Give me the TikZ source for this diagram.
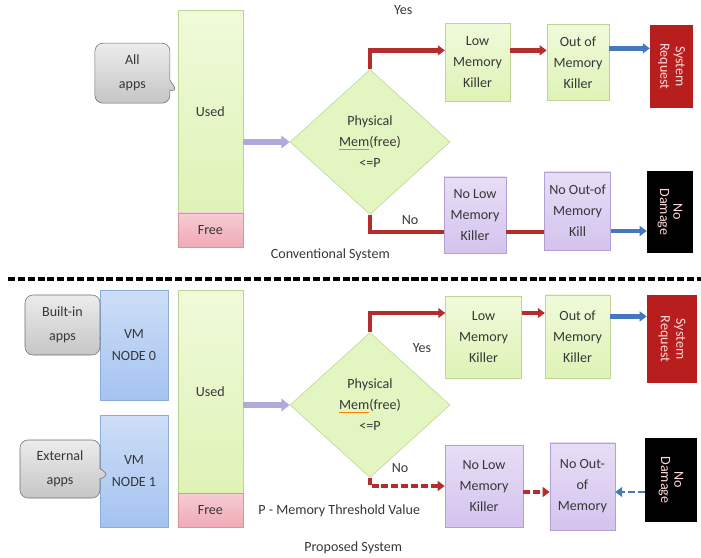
\documentclass[tikz,border=0pt]{standalone}
\usepackage{fontspec}
\setmainfont{Carlito}
\usepackage{tikz}
\usepackage{xcolor}
\usetikzlibrary{arrows.meta, positioning, shapes.geometric, shapes.callouts}
\definecolor{barlime}{RGB}{222, 243, 182}
\definecolor{barlimetop}{RGB}{240, 250, 218}
\definecolor{limeedge}{RGB}{190, 212, 150}
\definecolor{freepink}{RGB}{240, 170, 182}
\definecolor{pinkedge}{RGB}{215, 150, 160}
\definecolor{vmblue}{RGB}{165, 195, 240}
\definecolor{blueedge}{RGB}{140, 170, 220}
\definecolor{nopurple}{RGB}{212, 195, 238}
\definecolor{purpleedge}{RGB}{178, 160, 210}
\definecolor{reqred}{RGB}{185, 30, 30}
\definecolor{linered}{RGB}{180, 45, 45}
\definecolor{lineblue}{RGB}{70, 120, 190}
\definecolor{linepurple}{RGB}{178, 168, 222}
\definecolor{tagedge}{RGB}{110, 110, 110}
\definecolor{textgrey}{RGB}{55, 55, 55}

\begin{document}
\begin{tikzpicture}[
    font=\fontsize{10}{15}\selectfont, text=textgrey,
    bar/.style={rectangle, draw=limeedge, top color=barlimetop, bottom color=barlime, minimum width=1.625cm},
    freebox/.style={rectangle, draw=pinkedge, top color=freepink!60, bottom color=freepink, minimum width=1.625cm, minimum height=0.85cm},
    vmbox/.style={rectangle, draw=blueedge, top color=vmblue!55, bottom color=vmblue, align=center, minimum width=1.7cm},
    killbox/.style={rectangle, draw=limeedge, top color=barlimetop, bottom color=barlime, align=center},
    nokillbox/.style={rectangle, draw=purpleedge, top color=nopurple!55, bottom color=nopurple, align=center},
    endbox/.style={rectangle, text=white!85!red, align=center, font=\fontsize{10}{13}\selectfont},
    decision/.style={diamond, draw=limeedge, fill=barlime!85, align=center, inner sep=0pt, minimum width=4cm, minimum height=3.625cm},
    apptag/.style={rectangle callout, rounded corners=2mm, draw=tagedge, top color=gray!15, bottom color=gray!45, align=center, font=\fontsize{10}{17}\selectfont},
    feed/.style={-{Triangle[length=6pt, width=9pt]}, line width=4pt, linepurple},
    redline/.style={-{Triangle[length=5pt, width=7pt]}, line width=3pt, linered},
    blueline/.style={-{Triangle[length=5pt, width=7pt]}, line width=3pt, lineblue},
    dashline/.style={dashed, dash pattern=on 5pt off 2pt}
]
\useasboundingbox (0,0) rectangle (17.525,-13.95);

% Conventional system
\node[bar, minimum height=5.075cm] (used1) at (5.26,-2.79) {Used};
\node[freebox] (free1) at (5.26,-5.75) {Free};
\node[apptag, minimum width=1.875cm, minimum height=1.5cm, callout absolute pointer={(4.45,-2.3)}] (allapps) at (3.31,-1.83) {All\\apps};

\node[decision] (check1) at (9.25,-3.55) {Physical\\{\color{orange}\underline{\textcolor{textgrey}{Mem}}}(free)\\<=P};
\draw[feed] (used1.east|-check1.west) -- (check1.west);

\node[killbox, minimum width=1.625cm, minimum height=1.95cm] (lmk1) at (11.94,-1.56) {Low\\Memory\\Killer};
\node[killbox, minimum width=1.55cm, minimum height=1.9cm] (oom1) at (14.45,-1.56) {Out of\\Memory\\Killer};
\node[endbox, fill=reqred, minimum width=1.075cm, minimum height=2.075cm] (req1) at (16.79,-1.66) {\rotatebox{-90}{\shortstack{System\\Request}}};

\node[nokillbox, minimum width=1.55cm, minimum height=1.9cm] (nolmk1) at (11.875,-5.375) {No Low\\Memory\\Killer};
\node[nokillbox, minimum width=1.525cm, minimum height=1.95cm] (nooom1) at (14.44,-5.275) {No Out-of\\Memory\\Kill};
\node[endbox, fill=black, minimum width=1.15cm, minimum height=2.05cm] (dmg1) at (16.75,-5.3) {\rotatebox{-90}{\shortstack{No\\Damage}}};

\draw[redline] (check1.north) |- ([yshift=0.3cm]lmk1.west);
\draw[redline] ([yshift=0.3cm]lmk1.east) -- ([yshift=0.3cm]oom1.west);
\draw[blueline] ([yshift=0.35cm]oom1.east) -- ([yshift=0.35cm]oom1.east-|req1.west);
\draw[redline, -] (check1.south) |- ([yshift=-0.43cm]nolmk1.west);
\draw[redline, -] ([yshift=-0.43cm]nolmk1.east) -- ([yshift=-0.43cm]nolmk1.east-|nooom1.west);
\draw[blueline] ([yshift=-0.5cm]nooom1.east) -- ([yshift=-0.5cm]nooom1.east-|dmg1.west);

\node (yes1) at (10.08,-0.25) {Yes};
\node (no1) at (10.25,-5.5) {No};
\node (conv) at (8.26,-6.38) {Conventional System};

% Separator
\draw[dashline, line width=2.5pt, black] (0.2,-6.975) -- (17.525,-6.975);

% Proposed system
\node[vmbox, minimum height=2.75cm] (vm0) at (3.35,-8.625) {VM\\NODE 0};
\node[vmbox, minimum height=2.8cm] (vm1) at (3.35,-11.775) {VM\\NODE 1};
\node[apptag, minimum width=1.875cm, minimum height=1.5cm, callout absolute pointer={(vm0.west)}] (builtin) at (1.5625,-8.125) {Built-in\\apps};
\node[apptag, minimum width=2cm, minimum height=1.45cm, callout absolute pointer={(2.75,-11.875)}] (external) at (1.5,-11.725) {External\\apps};

\node[bar, minimum height=5.075cm] (used2) at (5.26,-9.79) {Used};
\node[freebox] (free2) at (5.26,-12.75) {Free};

\node[decision] (check2) at (9.25,-10.125) {Physical\\{\color{orange}\underline{\textcolor{textgrey}{Mem}}}(free)\\<=P};
\draw[feed] (used2.east|-check2.west) -- (check2.west);

\node[killbox, minimum width=1.9cm, minimum height=2.05cm] (lmk2) at (12.09,-8.425) {Low\\Memory\\Killer};
\node[killbox, minimum width=1.625cm, minimum height=2.075cm] (oom2) at (14.44,-8.41) {Out of\\Memory\\Killer};
\node[endbox, fill=reqred, minimum width=1.25cm, minimum height=2.2cm] (req2) at (16.8,-8.475) {\rotatebox{-90}{\shortstack{System\\Request}}};

\node[nokillbox, minimum width=1.95cm, minimum height=2.05cm] (nolmk2) at (12.1,-12.15) {No Low\\Memory\\Killer};
\node[nokillbox, minimum width=1.625cm, minimum height=2.175cm] (nooom2) at (14.56,-12.16) {No Out-\\of\\Memory};
\node[endbox, fill=black, minimum width=1.3cm, minimum height=2.1cm] (dmg2) at (16.775,-12.0) {\rotatebox{-90}{\shortstack{No\\Damage}}};

\draw[redline] (check2.north) |- ([yshift=0.6cm]lmk2.west);
\draw[redline] ([yshift=0.6cm]lmk2.east) -- ([yshift=0.6cm]lmk2.east-|oom2.west);
\draw[blueline] ([yshift=0.5cm]oom2.east) -- ([yshift=0.5cm]oom2.east-|req2.west);
\draw[redline, dashline, line width=2.5pt] (check2.south) |- (nolmk2.west);
\draw[redline, dashline, line width=2.5pt] ([yshift=-0.15cm]nolmk2.east) -- ([yshift=-0.15cm]nolmk2.east-|nooom2.west);
\draw[blueline, dashline, line width=2pt] ([yshift=-0.3cm]dmg2.west) -- ([yshift=-0.3cm]dmg2.west-|nooom2.east);

\node (yes2) at (10.55,-8.7) {Yes};
\node (no2) at (10,-11.7) {No};
\node (threshold) at (8.48,-12.78) {P - Memory Threshold Value};
\node (prop) at (8.83,-13.7) {Proposed System};

\end{tikzpicture}
\end{document}
